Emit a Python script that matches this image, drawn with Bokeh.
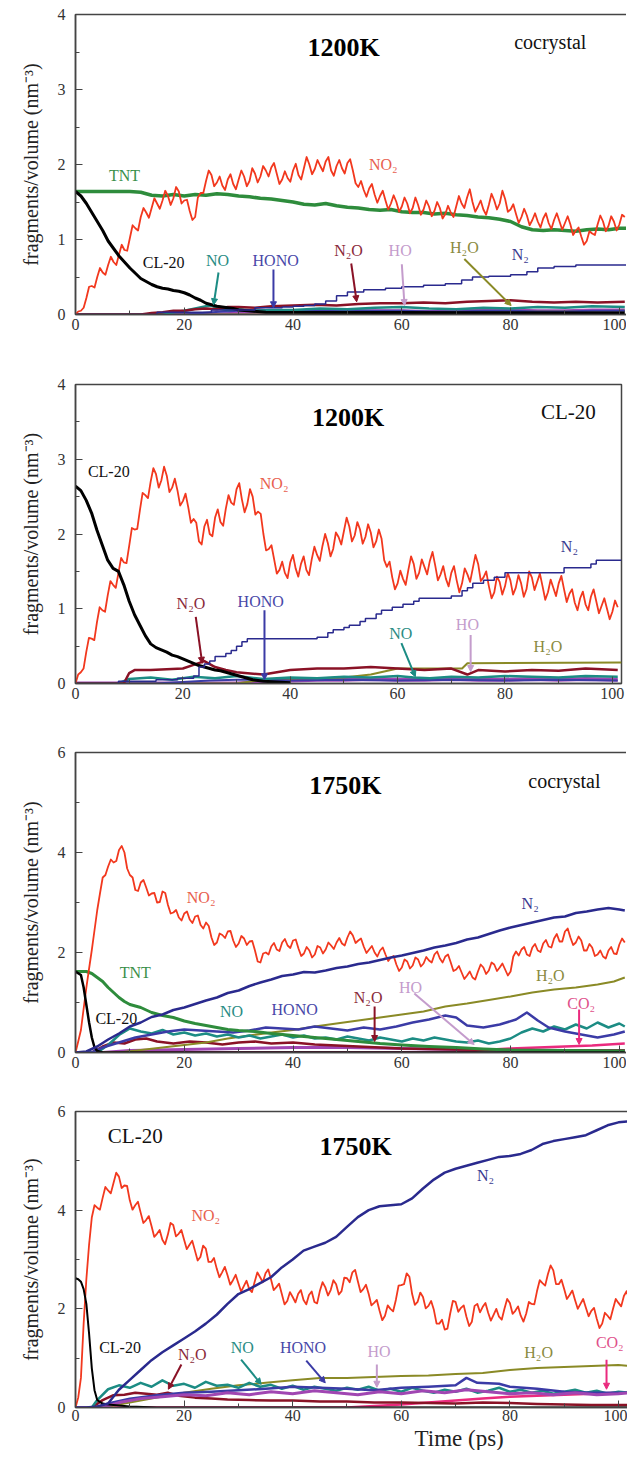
from bokeh.plotting import figure
from bokeh.layouts import column
from bokeh.models import Label, Arrow, NormalHead, FixedTicker, Range1d, Title
from bokeh.embed import file_html
from bokeh.resources import INLINE

FONT = "Liberation Serif"

# ---------------- DATA ----------------
# Panel 1 : 1200 K cocrystal  (NO2 read at whole ps, plus the fluctuation seen at half ps)
p1_no2_t = list(range(102))
p1_no2 = [0.00, 0.05, 0.22, 0.38, 0.50, 0.56, 0.66, 0.70, 0.80, 0.86,
          1.02, 1.15, 1.30, 1.36, 1.42, 1.48, 1.52, 1.58, 1.55, 1.64,
          1.52, 1.38, 1.30, 1.62, 1.78, 1.86, 1.76, 1.72, 1.80, 1.74,
          1.80, 1.84, 1.78, 1.88, 1.84, 1.92, 1.96, 1.88, 1.80, 1.82,
          1.92, 1.86, 1.95, 2.00, 1.94, 1.98, 2.04, 1.92, 1.98, 1.95,
          2.02, 1.92, 1.70, 1.66, 1.68, 1.60, 1.58, 1.52, 1.48, 1.50,
          1.44, 1.48, 1.42, 1.46, 1.40, 1.44, 1.38, 1.42, 1.34, 1.36,
          1.44, 1.48, 1.56, 1.50, 1.44, 1.40, 1.46, 1.52, 1.48, 1.54,
          1.40, 1.34, 1.30, 1.32, 1.26, 1.24, 1.28, 1.22, 1.26, 1.24,
          1.22, 1.20, 1.12, 1.04, 0.98, 1.08, 1.20, 1.24, 1.18, 1.24,
          1.20, 1.30]
p1_no2_half = [0.04, 0.09, 0.37, 0.36, 0.62, 0.53, 0.77, 0.66, 0.93, 0.85,
               1.19, 1.12, 1.42, 1.29, 1.55, 1.41, 1.65, 1.46, 1.70, 1.48,
               1.53, 1.26, 1.56, 1.62, 1.92, 1.71, 1.84, 1.66, 1.87, 1.67,
               1.92, 1.71, 1.95, 1.76, 1.98, 1.84, 2.02, 1.74, 1.91, 1.77,
               2.01, 1.80, 2.10, 1.87, 2.06, 1.91, 2.10, 1.85, 2.06, 1.88,
               2.07, 1.75, 1.78, 1.57, 1.74, 1.49, 1.65, 1.40, 1.59, 1.37,
               1.56, 1.35, 1.56, 1.33, 1.52, 1.31, 1.50, 1.28, 1.45, 1.30,
               1.58, 1.42, 1.67, 1.37, 1.52, 1.33, 1.61, 1.40, 1.65, 1.37,
               1.47, 1.22, 1.41, 1.19, 1.35, 1.16, 1.35, 1.14, 1.35, 1.13,
               1.31, 1.06, 1.16, 0.93, 1.11, 1.06, 1.32, 1.11, 1.31, 1.12,
               1.33]
p1_tnt_t = [0, 2, 4, 6, 8, 10, 12, 14, 16, 18, 20, 22, 24, 26, 28, 30, 32, 34, 36, 38,
            40, 42, 44, 46, 48, 50, 52, 54, 56, 58, 60, 62, 64, 66, 68, 70, 72, 74, 76, 78,
            80, 82, 84, 86, 88, 90, 92, 94, 96, 98, 100, 101.5]
p1_tnt = [1.64, 1.64, 1.64, 1.64, 1.64, 1.64, 1.63, 1.59, 1.58, 1.60, 1.58, 1.60, 1.59, 1.61, 1.60, 1.58, 1.57, 1.55, 1.54, 1.52,
          1.50, 1.47, 1.46, 1.48, 1.45, 1.43, 1.42, 1.40, 1.39, 1.40, 1.37, 1.36, 1.36, 1.34, 1.35, 1.33, 1.32, 1.30, 1.29, 1.27,
          1.24, 1.17, 1.13, 1.12, 1.13, 1.12, 1.11, 1.13, 1.14, 1.13, 1.15, 1.15]
p1_cl20_t = [0, 1, 2, 3, 4, 5, 6, 7, 8, 9, 10, 11, 12, 13, 14, 15, 16, 17, 18, 19,
             20, 21, 22, 23, 24, 25, 26, 27, 28, 29, 30, 35, 101]
p1_cl20 = [1.64, 1.58, 1.48, 1.36, 1.24, 1.12, 0.98, 0.88, 0.78, 0.70, 0.62, 0.55, 0.48, 0.44, 0.40, 0.37, 0.35, 0.34, 0.32, 0.31,
           0.29, 0.26, 0.22, 0.19, 0.15, 0.13, 0.11, 0.10, 0.09, 0.08, 0.06, 0.03, 0.02]
p1_n2_t = [0, 15, 25, 33, 38, 40, 42, 44, 46, 48, 50, 53, 57, 60, 64, 68, 71, 73, 76, 80, 83, 85, 88, 92, 101.5]
p1_n2 = [0.0, 0.03, 0.06, 0.09, 0.10, 0.11, 0.12, 0.14, 0.18, 0.25, 0.30, 0.33, 0.35, 0.37, 0.39, 0.41, 0.46, 0.50,
         0.51, 0.53, 0.57, 0.62, 0.64, 0.66, 0.66]
p1_n2o_t = [0, 12, 14, 16, 18, 20, 22, 24, 26, 28, 30, 33, 36, 40, 44, 48, 52, 56, 60, 64, 68, 72, 76, 80, 84, 88, 92, 96, 101]
p1_n2o = [0, 0, 0.02, 0.03, 0.05, 0.05, 0.07, 0.08, 0.07, 0.10, 0.10, 0.09, 0.11, 0.12, 0.13, 0.12, 0.14, 0.15, 0.15, 0.16,
          0.15, 0.17, 0.18, 0.19, 0.17, 0.16, 0.17, 0.16, 0.17]
p1_no_t = [0, 15, 18, 20, 22, 24, 25, 26, 28, 30, 33, 36, 40, 45, 50, 55, 60, 65, 70, 75, 80, 85, 90, 95, 101]
p1_no = [0, 0, 0.03, 0.05, 0.08, 0.11, 0.12, 0.08, 0.06, 0.07, 0.05, 0.06, 0.06, 0.08, 0.07, 0.09, 0.10, 0.08, 0.07, 0.09,
         0.08, 0.10, 0.09, 0.11, 0.10]
p1_hono_t = [0, 20, 25, 30, 35, 40, 45, 50, 55, 60, 65, 70, 75, 80, 85, 90, 95, 101]
p1_hono = [0, 0, 0.03, 0.05, 0.06, 0.05, 0.06, 0.06, 0.05, 0.05, 0.04, 0.04, 0.05, 0.05, 0.04, 0.04, 0.05, 0.05]
p1_ho_t = [0, 25, 30, 35, 40, 45, 50, 55, 60, 65, 70, 75, 80, 85, 90, 95, 101]
p1_ho = [0, 0, 0.02, 0.02, 0.03, 0.03, 0.04, 0.05, 0.05, 0.04, 0.05, 0.06, 0.06, 0.05, 0.05, 0.06, 0.06]
p1_h2o_t = [0, 40, 50, 60, 70, 80, 90, 101]
p1_h2o = [0, 0, 0.02, 0.03, 0.03, 0.04, 0.04, 0.05]

# Panel 2 : 1200 K CL-20
p2_no2_t = list(range(102))
p2_no2 = [0.00, 0.15, 0.42, 0.60, 0.82, 0.98, 1.18, 1.32, 1.48, 1.62,
          1.84, 2.06, 2.32, 2.52, 2.70, 2.80, 2.72, 2.78, 2.62, 2.58,
          2.44, 2.36, 2.20, 1.90, 2.10, 2.00, 2.22, 2.16, 2.34, 2.42,
          2.60, 2.46, 2.40, 2.50, 2.30, 2.00, 1.80, 1.66, 1.52, 1.48,
          1.62, 1.54, 1.60, 1.52, 1.66, 1.72, 1.84, 1.88, 1.80, 1.96,
          2.04, 2.10, 1.98, 2.06, 1.96, 2.02, 1.90, 1.94, 1.56, 1.42,
          1.34, 1.40, 1.52, 1.60, 1.48, 1.56, 1.64, 1.58, 1.46, 1.40,
          1.48, 1.38, 1.34, 1.46, 1.54, 1.60, 1.42, 1.30, 1.22, 1.36,
          1.30, 1.38, 1.28, 1.34, 1.26, 1.42, 1.36, 1.30, 1.22, 1.28,
          1.34, 1.26, 1.20, 1.08, 1.14, 1.06, 1.16, 1.10, 1.04, 1.00,
          0.96, 1.02]
p2_no2_half = [0.12, 0.20, 0.61, 0.58, 1.02, 0.96, 1.37, 1.28, 1.68, 1.61,
               2.08, 2.07, 2.55, 2.48, 2.88, 2.62, 2.90, 2.56, 2.74, 2.38,
               2.54, 2.15, 2.15, 1.86, 2.19, 1.97, 2.33, 2.11, 2.52, 2.39,
               2.68, 2.29, 2.60, 2.26, 2.27, 1.78, 1.85, 1.47, 1.63, 1.41,
               1.72, 1.43, 1.70, 1.45, 1.83, 1.64, 2.00, 1.70, 2.02, 1.86,
               2.22, 1.90, 2.16, 1.87, 2.13, 1.82, 2.06, 1.65, 1.63, 1.26,
               1.51, 1.32, 1.70, 1.40, 1.66, 1.46, 1.76, 1.38, 1.57, 1.30,
               1.57, 1.22, 1.54, 1.36, 1.72, 1.37, 1.50, 1.14, 1.43, 1.19,
               1.48, 1.19, 1.45, 1.16, 1.50, 1.25, 1.47, 1.12, 1.39, 1.17,
               1.44, 1.09, 1.26, 0.98, 1.23, 0.98, 1.26, 0.94, 1.14, 0.86,
               1.11]
p2_cl20_t = [0, 1, 2, 3, 4, 5, 6, 7, 8, 9, 10, 11, 12, 13, 14, 15, 16, 17, 18, 19,
             20, 21, 22, 23, 24, 25, 26, 27, 28, 29, 30, 31, 32, 33, 34, 35, 40]
p2_cl20 = [2.64, 2.58, 2.45, 2.28, 2.05, 1.85, 1.65, 1.54, 1.50, 1.32,
           1.10, 0.92, 0.78, 0.64, 0.53, 0.48, 0.45, 0.42, 0.38, 0.36,
           0.33, 0.30, 0.27, 0.24, 0.22, 0.20, 0.18, 0.17, 0.15, 0.13,
           0.11, 0.09, 0.07, 0.05, 0.04, 0.03, 0.01]
p2_n2_t = [0, 8, 15, 19, 22, 23, 24, 25, 26, 28, 29, 30, 31, 32, 45, 47, 48, 50, 51, 53,
           54, 56, 57, 59, 61, 63, 64, 70, 72, 73, 74, 76, 78, 80, 91, 96, 97, 101.7]
p2_n2 = [0, 0.03, 0.05, 0.07, 0.10, 0.22, 0.26, 0.30, 0.36, 0.40, 0.44, 0.50, 0.56, 0.60, 0.62, 0.68, 0.72, 0.75, 0.78, 0.83,
         0.87, 0.93, 0.98, 1.02, 1.06, 1.10, 1.14, 1.17, 1.24, 1.28, 1.34, 1.38, 1.42, 1.48, 1.55, 1.60, 1.65, 1.65]
p2_n2o_t = [0, 9, 10, 11, 14, 17, 20, 22, 24, 26, 28, 30, 35, 40, 45, 50, 55, 60, 65, 70, 73, 75, 80, 85, 90, 95, 101]
p2_n2o = [0, 0, 0.14, 0.18, 0.18, 0.19, 0.20, 0.25, 0.30, 0.22, 0.18, 0.15, 0.12, 0.18, 0.20, 0.20, 0.22, 0.20, 0.18, 0.20,
          0.12, 0.18, 0.16, 0.18, 0.17, 0.20, 0.18]
p2_no_t = [0, 8, 10, 14, 18, 22, 26, 30, 35, 40, 45, 50, 55, 60, 63, 66, 70, 75, 80, 85, 90, 95, 101]
p2_no = [0, 0, 0.06, 0.08, 0.05, 0.09, 0.07, 0.10, 0.06, 0.08, 0.07, 0.09, 0.08, 0.10, 0.08, 0.07, 0.09, 0.08, 0.10, 0.09,
         0.08, 0.10, 0.09]
p2_hono_t = [0, 15, 20, 25, 30, 35, 40, 50, 60, 70, 80, 90, 101]
p2_hono = [0, 0, 0.02, 0.04, 0.05, 0.05, 0.04, 0.05, 0.04, 0.05, 0.04, 0.05, 0.04]
p2_ho_t = [0, 30, 35, 40, 45, 50, 55, 60, 65, 70, 75, 80, 85, 90, 95, 101]
p2_ho = [0, 0, 0.02, 0.04, 0.05, 0.05, 0.06, 0.05, 0.05, 0.06, 0.05, 0.05, 0.06, 0.05, 0.06, 0.05]
p2_h2o_t = [0, 30, 35, 50, 55, 60, 72, 73, 101.7]
p2_h2o = [0, 0, 0.05, 0.08, 0.12, 0.20, 0.20, 0.27, 0.28]

# Panel 3 : 1750 K cocrystal
p3_no2_t = list(range(102))
p3_no2 = [0.00, 0.45, 1.30, 2.05, 2.85, 3.50, 3.72, 3.80, 4.05, 4.00,
          3.55, 3.25, 3.40, 3.30, 3.18, 3.00, 3.22, 2.95, 2.80, 2.70,
          2.78, 2.66, 2.72, 2.55, 2.60, 2.30, 2.20, 2.35, 2.42, 2.24,
          2.18, 2.28, 2.22, 2.04, 1.80, 2.00, 2.12, 2.06, 2.20, 2.14,
          2.24, 2.08, 1.98, 2.04, 1.96, 2.10, 2.06, 2.14, 2.20, 2.18,
          2.30, 2.34, 2.24, 2.12, 2.06, 2.00, 2.04, 1.96, 1.90, 1.76,
          1.70, 1.82, 1.74, 1.86, 1.78, 1.84, 1.96, 1.88, 1.92, 1.80,
          1.66, 1.60, 1.54, 1.50, 1.62, 1.70, 1.64, 1.76, 1.70, 1.66,
          1.62, 2.02, 2.06, 1.96, 2.10, 2.04, 2.18, 2.12, 2.28, 2.22,
          2.42, 2.30, 2.20, 2.24, 2.04, 2.10, 1.96, 1.92, 2.04, 1.98,
          2.16, 2.20]
p3_no2_half = [0.22, 0.88, 1.68, 2.45, 3.18, 3.55, 3.86, 3.83, 4.13, 3.68,
               3.50, 3.23, 3.45, 3.14, 3.19, 3.01, 3.19, 2.78, 2.85, 2.64,
               2.82, 2.59, 2.74, 2.48, 2.53, 2.15, 2.38, 2.29, 2.43, 2.11,
               2.33, 2.15, 2.23, 1.82, 1.98, 1.96, 2.19, 2.03, 2.27, 2.09,
               2.26, 1.93, 2.11, 1.90, 2.13, 1.98, 2.20, 2.07, 2.29, 2.14,
               2.42, 2.19, 2.28, 1.99, 2.13, 1.92, 2.10, 1.83, 1.93, 1.63,
               1.86, 1.68, 1.90, 1.72, 1.91, 1.80, 2.02, 1.80, 1.96, 1.63,
               1.73, 1.47, 1.62, 1.46, 1.76, 1.57, 1.80, 1.63, 1.78, 1.54,
               1.92, 1.94, 2.11, 1.93, 2.17, 2.01, 2.25, 2.10, 2.37, 2.22,
               2.48, 2.15, 2.32, 2.04, 2.17, 1.93, 2.04, 1.88, 2.11, 1.97,
               2.28]
p3_n2_t = [0, 2, 4, 6, 8, 10, 12, 14, 16, 18, 20, 22, 24, 26, 28, 30, 32, 34, 36, 38,
           40, 42, 44, 46, 48, 50, 52, 54, 56, 58, 60, 62, 64, 66, 68, 70, 72, 74, 76, 78,
           80, 82, 84, 86, 88, 90, 92, 94, 96, 98, 100, 101]
p3_n2 = [0.00, 0.02, 0.12, 0.26, 0.38, 0.52, 0.60, 0.71, 0.76, 0.85, 0.90, 0.97, 1.04, 1.10, 1.19, 1.24, 1.33, 1.40, 1.46, 1.53,
         1.56, 1.61, 1.60, 1.64, 1.69, 1.72, 1.77, 1.80, 1.85, 1.90, 1.94, 1.99, 2.04, 2.10, 2.14, 2.19, 2.26, 2.30, 2.37, 2.44,
         2.50, 2.55, 2.60, 2.65, 2.70, 2.72, 2.79, 2.82, 2.86, 2.89, 2.86, 2.84]
p3_tnt_t = [0, 2, 3, 4, 5, 6, 7, 8, 9, 10, 12, 14, 16, 18, 20, 22, 24, 26, 28, 30,
            33, 36, 40, 44, 48, 52, 56, 60, 65, 70, 75, 80, 90, 101]
p3_tnt = [1.62, 1.62, 1.58, 1.50, 1.42, 1.30, 1.20, 1.10, 1.02, 0.96, 0.90, 0.80, 0.74, 0.70, 0.63, 0.58, 0.54, 0.50, 0.46, 0.44,
          0.42, 0.38, 0.34, 0.30, 0.26, 0.22, 0.18, 0.15, 0.12, 0.10, 0.07, 0.05, 0.04, 0.03]
p3_cl20_t = [0, 1, 1.5, 2, 2.5, 3, 3.5, 4, 5, 101]
p3_cl20 = [1.62, 1.55, 1.30, 0.95, 0.60, 0.30, 0.10, 0.03, 0.0, 0.0]
p3_h2o_t = [0, 8, 12, 16, 20, 24, 28, 32, 36, 40, 44, 48, 52, 56, 60, 64, 68, 72, 76, 80, 84, 88, 92, 96, 99, 101]
p3_h2o = [0, 0, 0.05, 0.10, 0.15, 0.20, 0.28, 0.34, 0.40, 0.45, 0.52, 0.58, 0.64, 0.70, 0.76, 0.82, 0.92, 0.98, 1.05, 1.12,
          1.20, 1.26, 1.30, 1.36, 1.42, 1.50]
p3_hono_t = [0, 3, 5, 8, 11, 14, 17, 20, 23, 26, 29, 32, 35, 38, 41, 44, 47, 50, 53, 56,
             59, 62, 65, 68, 70, 72, 75, 78, 81, 83, 85, 87, 90, 93, 96, 99, 101]
p3_hono = [0, 0, 0.10, 0.20, 0.30, 0.36, 0.42, 0.46, 0.44, 0.42, 0.40, 0.44, 0.50, 0.48, 0.46, 0.52, 0.48, 0.44, 0.50, 0.46,
           0.52, 0.60, 0.66, 0.74, 0.70, 0.54, 0.50, 0.56, 0.66, 0.80, 0.64, 0.50, 0.42, 0.36, 0.30, 0.36, 0.42]
p3_no_t = [0, 4, 6, 8, 10, 12, 14, 16, 18, 20, 22, 24, 26, 28, 30, 32, 34, 36, 38, 40,
           42, 44, 46, 48, 50, 52, 54, 56, 58, 60, 62, 64, 66, 68, 70, 72, 74, 76, 78, 80,
           82, 84, 86, 88, 90, 92, 94, 96, 98, 100, 101]
p3_no = [0, 0, 0.15, 0.35, 0.48, 0.42, 0.38, 0.45, 0.36, 0.40, 0.34, 0.38, 0.32, 0.36, 0.30, 0.34, 0.28, 0.32, 0.36, 0.30,
         0.34, 0.28, 0.30, 0.26, 0.32, 0.28, 0.24, 0.30, 0.26, 0.22, 0.28, 0.24, 0.30, 0.26, 0.22, 0.20, 0.24, 0.18, 0.22, 0.28,
         0.40, 0.48, 0.42, 0.52, 0.46, 0.56, 0.48, 0.60, 0.50, 0.58, 0.52]
p3_n2o_t = [0, 3, 5, 7, 9, 11, 13, 15, 18, 21, 24, 27, 30, 33, 36, 40, 44, 48, 52, 56, 60, 65, 70, 80, 90, 101]
p3_n2o = [0, 0, 0.12, 0.20, 0.18, 0.26, 0.28, 0.22, 0.18, 0.22, 0.20, 0.16, 0.20, 0.22, 0.18, 0.20, 0.16, 0.14, 0.12, 0.10,
          0.08, 0.07, 0.06, 0.05, 0.04, 0.04]
p3_ho_t = [0, 5, 10, 20, 30, 40, 50, 60, 70, 80, 90, 101]
p3_ho = [0, 0, 0.04, 0.06, 0.08, 0.10, 0.10, 0.08, 0.06, 0.05, 0.04, 0.04]
p3_co2_t = [0, 70, 75, 80, 85, 90, 95, 101]
p3_co2 = [0, 0, 0.05, 0.08, 0.10, 0.12, 0.14, 0.18]

# Panel 4 : 1750 K CL-20
p4_no2_t = list(range(103))
p4_no2 = [0.00, 0.60, 2.60, 3.85, 4.05, 4.25, 4.40, 4.55, 4.68, 4.50,
          4.20, 4.10, 3.95, 3.80, 3.68, 3.52, 3.40, 3.50, 3.70, 3.52,
          3.40, 3.30, 3.18, 3.05, 3.22, 2.95, 2.82, 2.74, 2.68, 2.58,
          2.52, 2.46, 2.40, 2.55, 2.64, 2.72, 2.60, 2.44, 2.30, 2.16,
          2.24, 2.30, 2.18, 2.28, 2.14, 2.36, 2.44, 2.38, 2.50, 2.36,
          2.62, 2.74, 2.56, 2.40, 2.30, 2.12, 1.96, 1.86, 2.00, 2.18,
          2.48, 2.72, 2.30, 2.14, 2.24, 2.06, 1.98, 1.70, 1.58, 1.90,
          2.14, 2.02, 1.84, 1.74, 2.10, 2.04, 1.92, 1.88, 1.84, 2.00,
          2.12, 1.96, 1.86, 1.90, 2.10, 2.36, 2.52, 2.70, 2.78, 2.50,
          2.40, 2.28, 2.18, 2.10, 2.02, 1.96, 1.80, 1.70, 1.86, 2.00,
          2.12, 2.26, 2.18]
p4_no2_half = [0.20, 1.70, 3.30, 4.10, 4.01, 4.47, 4.34, 4.76, 4.45, 4.49,
               4.01, 4.17, 3.74, 3.88, 3.46, 3.60, 3.31, 3.74, 3.47, 3.60,
               3.21, 3.38, 2.98, 3.28, 2.95, 3.03, 2.64, 2.85, 2.49, 2.69,
               2.35, 2.57, 2.34, 2.74, 2.54, 2.80, 2.38, 2.51, 2.09, 2.34,
               2.13, 2.38, 2.09, 2.35, 2.11, 2.54, 2.27, 2.58, 2.29, 2.63,
               2.54, 2.79, 2.34, 2.49, 2.07, 2.18, 1.77, 2.07, 1.95, 2.47,
               2.50, 2.65, 2.08, 2.33, 2.01, 2.16, 1.70, 1.78, 1.60, 2.16,
               1.94, 2.07, 1.65, 2.06, 1.93, 2.12, 1.76, 2.00, 1.78, 2.20,
               1.90, 2.05, 1.74, 2.14, 2.09, 2.58, 2.47, 2.88, 2.50, 2.59,
               2.20, 2.37, 2.00, 2.20, 1.85, 2.02, 1.61, 1.92, 1.79, 2.20,
               2.05, 2.36]
p4_n2_t = [0, 2, 4, 6, 8, 10, 12, 14, 16, 18, 20, 22, 24, 26, 28, 30, 32, 34, 36, 38,
           40, 42, 44, 46, 48, 50, 52, 54, 56, 58, 60, 62, 64, 66, 68, 70, 72, 74, 76, 78,
           80, 82, 84, 86, 88, 90, 92, 94, 96, 98, 100, 102]
p4_n2 = [0.00, 0.00, 0.02, 0.08, 0.36, 0.56, 0.76, 0.96, 1.12, 1.26, 1.40, 1.54, 1.70, 1.88, 2.10, 2.30, 2.40, 2.52, 2.64, 2.84,
         3.00, 3.18, 3.26, 3.34, 3.46, 3.66, 3.86, 4.00, 4.08, 4.10, 4.12, 4.24, 4.44, 4.62, 4.76, 4.84, 4.90, 4.96, 5.02, 5.08,
         5.10, 5.14, 5.22, 5.34, 5.40, 5.44, 5.48, 5.52, 5.62, 5.72, 5.78, 5.80]
p4_cl20_t = [0, 0.5, 1, 1.5, 2, 2.5, 3, 3.5, 4, 5, 6, 8, 10, 15, 102]
p4_cl20 = [2.62, 2.60, 2.55, 2.40, 2.10, 1.50, 0.80, 0.35, 0.15, 0.08, 0.06, 0.04, 0.02, 0.0, 0.0]
p4_no_t = [0, 3, 4, 6, 8, 10, 12, 14, 16, 18, 20, 22, 24, 26, 28, 30, 32, 34, 36, 38,
           40, 42, 44, 46, 48, 50, 52, 54, 56, 58, 60, 62, 64, 66, 68, 70, 72, 74, 76, 78,
           80, 82, 84, 86, 88, 90, 92, 94, 96, 98, 100, 102]
p4_no = [0, 0, 0.15, 0.37, 0.45, 0.40, 0.50, 0.42, 0.55, 0.44, 0.48, 0.40, 0.52, 0.44, 0.46, 0.40, 0.50, 0.42, 0.46, 0.38,
         0.44, 0.36, 0.42, 0.38, 0.34, 0.40, 0.36, 0.42, 0.34, 0.38, 0.32, 0.40, 0.34, 0.30, 0.36, 0.32, 0.38, 0.30, 0.34, 0.40,
         0.32, 0.36, 0.30, 0.34, 0.28, 0.32, 0.36, 0.30, 0.34, 0.28, 0.32, 0.30]
p4_hono_t = [0, 4, 6, 10, 15, 20, 25, 30, 35, 40, 45, 50, 55, 60, 65, 70, 72, 74, 78, 80, 85, 90, 95, 102]
p4_hono = [0, 0, 0.08, 0.18, 0.25, 0.30, 0.32, 0.35, 0.38, 0.42, 0.40, 0.38, 0.35, 0.40, 0.42, 0.45, 0.60, 0.50, 0.48, 0.42,
           0.38, 0.32, 0.30, 0.30]
p4_ho_t = [0, 5, 8, 12, 16, 20, 24, 28, 32, 36, 40, 44, 48, 52, 56, 60, 64, 68, 72, 76, 80, 84, 88, 92, 96, 100, 102]
p4_ho = [0, 0, 0.10, 0.18, 0.22, 0.26, 0.24, 0.30, 0.26, 0.32, 0.28, 0.34, 0.30, 0.26, 0.32, 0.28, 0.34, 0.30, 0.36, 0.32,
         0.28, 0.30, 0.26, 0.30, 0.26, 0.28, 0.30]
p4_h2o_t = [0, 5, 10, 15, 20, 25, 30, 35, 40, 45, 50, 55, 60, 65, 70, 75, 80, 85, 90, 95, 100, 102]
p4_h2o = [0, 0, 0.10, 0.20, 0.30, 0.38, 0.45, 0.50, 0.55, 0.60, 0.60, 0.62, 0.64, 0.65, 0.68, 0.70, 0.76, 0.80, 0.82, 0.84,
          0.86, 0.84]
p4_n2o_t = [0, 3, 5, 7, 9, 11, 13, 15, 17, 19, 22, 25, 28, 32, 36, 40, 45, 50, 55, 60, 65, 70, 75, 80, 85, 90, 95, 102]
p4_n2o = [0, 0, 0.15, 0.25, 0.26, 0.30, 0.28, 0.26, 0.30, 0.24, 0.20, 0.18, 0.16, 0.15, 0.14, 0.14, 0.12, 0.12, 0.10, 0.10,
          0.09, 0.08, 0.10, 0.09, 0.07, 0.06, 0.05, 0.05]
p4_co2_t = [0, 50, 55, 60, 65, 70, 75, 80, 85, 90, 95, 100, 102]
p4_co2 = [0, 0, 0.03, 0.06, 0.10, 0.14, 0.18, 0.22, 0.24, 0.26, 0.28, 0.30, 0.30]

X_TICKS = [0, 20, 40, 60, 80, 100]
X_MINOR = [10, 30, 50, 70, 90]

# ---------------- STYLE ----------------
COL = dict(NO2="#f2381e", TNT="#2e8c3c", CL20="#000000", N2="#2a2a8e", HONO="#3b3ba6",
           NO="#1c8c84", N2O="#8a1226", HO="#a046b2", H2O="#8a8a26", CO2="#ea2a7e")
LCOL = dict(NO2="#e8604e", TNT="#3a8f4a", CL20="#111111", N2="#3a3a90", HONO="#4848a8",
            NO="#2a8c84", N2O="#8a2a3a", HO="#c49ccc", H2O="#8a8a40", CO2="#e0508a")


def make_panel(xmax, ymax, yticks, yminor, fw, fh, bl, bt, bb, br):
    p = figure(frame_width=fw, frame_height=fh, x_range=Range1d(0, xmax), y_range=Range1d(0, ymax),
               output_backend="svg", toolbar_location=None,
               min_border_left=bl, min_border_top=bt, min_border_bottom=bb, min_border_right=br)
    p.xgrid.visible = False
    p.ygrid.visible = False
    p.outline_line_color = "#444444"
    p.outline_line_width = 1.5
    p.background_fill_color = "white"
    p.border_fill_color = "white"
    p.xaxis.ticker = FixedTicker(ticks=X_TICKS, minor_ticks=X_MINOR)
    p.yaxis.ticker = FixedTicker(ticks=yticks, minor_ticks=yminor)
    for ax in (p.xaxis, p.yaxis):
        ax.major_tick_in = 7
        ax.major_tick_out = 0
        ax.minor_tick_in = 4
        ax.minor_tick_out = 0
        ax.major_tick_line_color = "#444444"
        ax.minor_tick_line_color = "#444444"
        ax.axis_line_color = "#444444"
        ax.axis_line_width = 1.5
        ax.major_label_text_font = FONT
        ax.major_label_text_font_size = "16px"
        ax.major_label_text_color = "#333333"
    p.xaxis.major_label_standoff = 4
    p.yaxis.major_label_standoff = 10
    p.yaxis.axis_label = "fragments/volume (nm⁻³)"
    p.yaxis.axis_label_text_font = FONT
    p.yaxis.axis_label_text_font_size = "20px"
    p.yaxis.axis_label_text_font_style = "normal"
    p.yaxis.axis_label_text_color = "#222222"
    p.yaxis.axis_label_standoff = 13
    return p


def L(p, t, v, key, w, step=False):
    n = min(len(t), len(v))
    if step:
        p.step(t[:n], v[:n], mode="after", line_color=COL[key], line_width=w)
    else:
        p.line(t[:n], v[:n], line_color=COL[key], line_width=w, line_join="round")


def noisy(p, t, v, half, key, w):
    # whole-ps readings interleaved with the half-ps fluctuation readings
    th = [x + 0.5 for x in t[:len(half)]]
    pts = sorted(zip(list(t[:len(v)]) + th, list(v) + list(half)))
    p.line([a for a, b in pts], [b for a, b in pts], line_color=COL[key], line_width=w, line_join="round")


def txt(p, x, y, s, color, size="16px", bold=False):
    p.add_layout(Label(x=x, y=y, text=s, text_color=color, text_font=FONT, text_font_size=size,
                       text_font_style="bold" if bold else "normal",
                       text_align="center", text_baseline="middle"))


def arr(p, x0, y0, x1, y1, key):
    c = LCOL[key] if key == "HO" else COL[key]
    p.add_layout(Arrow(x_start=x0, y_start=y0, x_end=x1, y_end=y1, line_color=c, line_width=2,
                       end=NormalHead(size=6, fill_color=c, line_color=c)))


# ---------------- PANEL 1 ----------------
p1 = make_panel(101.5, 4, [0, 1, 2, 3, 4], [0.5, 1.5, 2.5, 3.5], 552, 300, 69, 14, 35, 5)
L(p1, p1_ho_t, p1_ho, "HO", 3)
L(p1, p1_h2o_t, p1_h2o, "H2O", 2)
L(p1, p1_hono_t, p1_hono, "HONO", 2)
L(p1, p1_no_t, p1_no, "NO", 2.5)
L(p1, p1_n2o_t, p1_n2o, "N2O", 2.5)
L(p1, p1_tnt_t, p1_tnt, "TNT", 3.5)
noisy(p1, p1_no2_t, p1_no2, p1_no2_half, "NO2", 1.8)
L(p1, p1_cl20_t, p1_cl20, "CL20", 3)
L(p1, p1_n2_t, p1_n2, "N2", 1.5, step=True)
txt(p1, 49.3, 3.56, "1200K", "#000000", "26px", True)
txt(p1, 87.3, 3.63, "cocrystal", "#111111", "20px")
txt(p1, 9.0, 1.85, "TNT", LCOL["TNT"])
txt(p1, 56.6, 2.0, "NO₂", LCOL["NO2"])
txt(p1, 16.2, 0.69, "CL-20", LCOL["CL20"])
txt(p1, 26.1, 0.72, "NO", LCOL["NO"])
txt(p1, 36.8, 0.72, "HONO", LCOL["HONO"])
txt(p1, 50.2, 0.85, "N₂O", LCOL["N2O"])
txt(p1, 59.7, 0.85, "HO", LCOL["HO"])
txt(p1, 71.5, 0.89, "H₂O", LCOL["H2O"])
txt(p1, 81.8, 0.80, "N₂", LCOL["N2"])
arr(p1, 26.3, 0.56, 25.4, 0.13, "NO")
arr(p1, 36.4, 0.60, 36.4, 0.09, "HONO")
arr(p1, 50.7, 0.68, 51.7, 0.17, "N2O")
arr(p1, 60.0, 0.67, 60.5, 0.12, "HO")
arr(p1, 71.5, 0.74, 80.1, 0.12, "H2O")

# ---------------- PANEL 2 ----------------
p2 = make_panel(101.7, 4, [0, 1, 2, 3, 4], [0.5, 1.5, 2.5, 3.5], 546, 299, 75, 35, 34, 5)
L(p2, p2_ho_t, p2_ho, "HO", 4)
L(p2, p2_h2o_t, p2_h2o, "H2O", 2)
L(p2, p2_hono_t, p2_hono, "HONO", 2)
L(p2, p2_no_t, p2_no, "NO", 2.5)
L(p2, p2_n2o_t, p2_n2o, "N2O", 2.5)
noisy(p2, p2_no2_t, p2_no2, p2_no2_half, "NO2", 1.8)
L(p2, p2_cl20_t, p2_cl20, "CL20", 3)
L(p2, p2_n2_t, p2_n2, "N2", 1.5, step=True)
txt(p2, 50.8, 3.56, "1200K", "#000000", "26px", True)
txt(p2, 91.8, 3.63, "CL-20", "#111111", "21px")
txt(p2, 6.2, 2.83, "CL-20", LCOL["CL20"])
txt(p2, 37.0, 2.67, "NO₂", LCOL["NO2"])
txt(p2, 21.5, 1.07, "N₂O", LCOL["N2O"])
txt(p2, 34.5, 1.10, "HONO", LCOL["HONO"])
txt(p2, 92.0, 1.83, "N₂", LCOL["N2"])
txt(p2, 60.6, 0.67, "NO", LCOL["NO"])
txt(p2, 73.0, 0.79, "HO", LCOL["HO"])
txt(p2, 88.0, 0.49, "H₂O", LCOL["H2O"])
arr(p2, 22.4, 0.89, 23.6, 0.27, "N2O")
arr(p2, 35.2, 0.98, 35.2, 0.05, "HONO")
arr(p2, 60.7, 0.54, 63.3, 0.09, "NO")
arr(p2, 73.6, 0.65, 73.6, 0.16, "HO")

# ---------------- PANEL 3 ----------------
p3 = make_panel(101.5, 6, [0, 2, 4, 6], [1, 3, 5], 552, 300, 69, 35, 25, 5)
L(p3, p3_ho_t, p3_ho, "HO", 3)
L(p3, p3_co2_t, p3_co2, "CO2", 2.5)
L(p3, p3_n2o_t, p3_n2o, "N2O", 2.5)
L(p3, p3_h2o_t, p3_h2o, "H2O", 2)
L(p3, p3_no_t, p3_no, "NO", 2.5)
L(p3, p3_hono_t, p3_hono, "HONO", 2.5)
L(p3, p3_tnt_t, p3_tnt, "TNT", 3)
noisy(p3, p3_no2_t, p3_no2, p3_no2_half, "NO2", 1.8)
L(p3, p3_cl20_t, p3_cl20, "CL20", 2.5)
L(p3, p3_n2_t, p3_n2, "N2", 2.5)
txt(p3, 49.6, 5.34, "1750K", "#000000", "26px", True)
txt(p3, 89.9, 5.44, "cocrystal", "#111111", "20px")
txt(p3, 23.1, 3.10, "NO₂", LCOL["NO2"])
txt(p3, 11.0, 1.60, "TNT", LCOL["TNT"])
txt(p3, 7.5, 0.69, "CL-20", LCOL["CL20"])
txt(p3, 28.7, 0.82, "NO", LCOL["NO"])
txt(p3, 40.3, 0.86, "HONO", LCOL["HONO"])
txt(p3, 53.8, 1.10, "N₂O", LCOL["N2O"])
txt(p3, 61.6, 1.30, "HO", LCOL["HO"])
txt(p3, 83.6, 2.99, "N₂", LCOL["N2"])
txt(p3, 87.3, 1.55, "H₂O", LCOL["H2O"])
txt(p3, 93.0, 0.99, "CO₂", LCOL["CO2"])
arr(p3, 55.0, 0.92, 55.0, 0.22, "N2O")
arr(p3, 62.3, 1.18, 73.3, 0.16, "HO")
arr(p3, 92.6, 0.86, 92.6, 0.16, "CO2")

# ---------------- PANEL 4 ----------------
p4 = make_panel(102.4, 6, [0, 2, 4, 6], [1, 3, 5], 556, 296, 69, 34, 0, 2)
L(p4, p4_co2_t, p4_co2, "CO2", 2.5)
L(p4, p4_h2o_t, p4_h2o, "H2O", 2)
L(p4, p4_n2o_t, p4_n2o, "N2O", 2.5)
L(p4, p4_no_t, p4_no, "NO", 2.5)
L(p4, p4_hono_t, p4_hono, "HONO", 2.5)
L(p4, p4_ho_t, p4_ho, "HO", 3)
noisy(p4, p4_no2_t, p4_no2, p4_no2_half, "NO2", 1.8)
L(p4, p4_cl20_t, p4_cl20, "CL20", 2)
L(p4, p4_n2_t, p4_n2, "N2", 2.5)
txt(p4, 11.0, 5.50, "CL-20", "#111111", "21px")
txt(p4, 51.6, 5.30, "1750K", "#000000", "26px", True)
txt(p4, 24.0, 3.90, "NO₂", LCOL["NO2"])
txt(p4, 75.5, 4.70, "N₂", LCOL["N2"])
txt(p4, 8.2, 1.22, "CL-20", LCOL["CL20"])
txt(p4, 21.5, 1.07, "N₂O", LCOL["N2O"])
txt(p4, 30.7, 1.22, "NO", LCOL["NO"])
txt(p4, 41.9, 1.22, "HONO", LCOL["HONO"])
txt(p4, 55.9, 1.14, "HO", LCOL["HO"])
txt(p4, 85.3, 1.12, "H₂O", LCOL["H2O"])
txt(p4, 98.4, 1.32, "CO₂", LCOL["CO2"])
arr(p4, 19.5, 0.87, 17.1, 0.37, "N2O")
arr(p4, 30.5, 0.97, 34.2, 0.47, "NO")
arr(p4, 42.5, 0.95, 46.0, 0.50, "HONO")
arr(p4, 55.5, 0.87, 55.5, 0.41, "HO")
arr(p4, 97.8, 0.97, 97.8, 0.37, "CO2")
p4.xaxis.major_label_standoff = 2
p4.add_layout(Title(text="Time (ps)", align="left", offset=339, standoff=0,
                    text_font=FONT, text_font_size="23px", text_font_style="normal",
                    text_color="#222222"), "below")

layout = column(p1, p2, p3, p4)
open("out.html", "w").write(file_html(layout, INLINE))
